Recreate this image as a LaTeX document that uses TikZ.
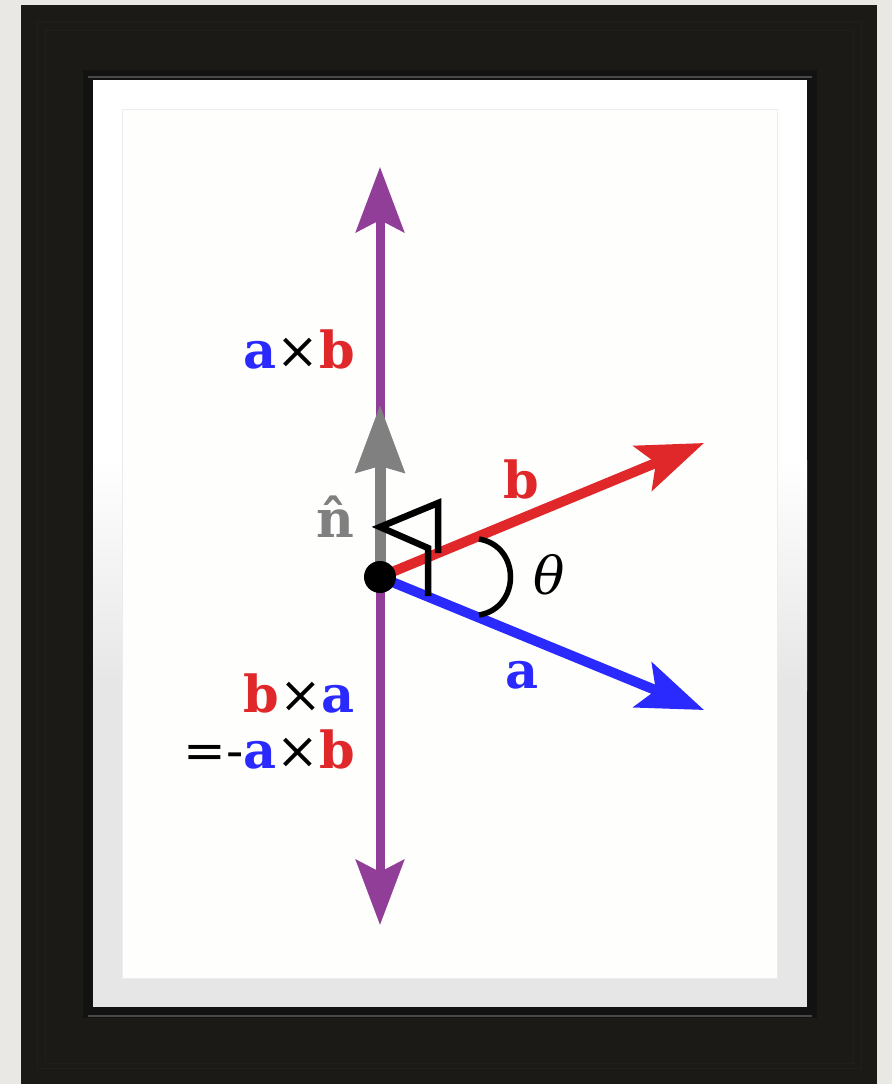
\documentclass[tikz,border=0pt]{standalone}
\usepackage{fontspec}
\setmainfont{DejaVu Serif}
\usetikzlibrary{arrows.meta}
\definecolor{bgc}{RGB}{233,232,229}
\definecolor{framec}{RGB}{28,26,22}
\definecolor{framel}{RGB}{33,31,27}
\definecolor{framed}{RGB}{18,18,18}
\definecolor{frameh}{RGB}{72,72,72}
\definecolor{matg}{RGB}{230,230,230}
\definecolor{paper}{RGB}{254,254,253}
\definecolor{paperb}{RGB}{236,236,236}
\definecolor{vpurple}{RGB}{145,62,152}
\definecolor{vgray}{RGB}{128,128,128}
\definecolor{vred}{RGB}{224,40,42}
\definecolor{vblue}{RGB}{42,42,255}
\tikzset{
  lbl/.style={inner sep=0pt, font=\fontsize{51}{56}\selectfont\bfseries},
  nlbl/.style={inner sep=0pt, font=\fontsize{52}{56}\selectfont\bfseries, text=vgray},
  thlbl/.style={inner sep=0pt, font=\fontsize{52}{56}\selectfont\itshape},
  vecarrow/.style={line width=10pt, -{Stealth[length=66pt, width=48pt, inset=14pt]}},
  flagline/.style={line width=6.5pt, black, line join=miter},
}
\begin{document}
\begin{tikzpicture}[x=1pt,y=-1pt]
\useasboundingbox (0,0) rectangle (892,1084);
% background and frame
\fill[bgc] (0,0) rectangle (892,1084);
\fill[framec] (21,5) rectangle (877,1084);
\draw[framel, line width=1pt] (37,21) rectangle (861,1068);
\draw[framel, line width=1pt] (45,30) rectangle (853,1063);
\fill[framed] (83,70) rectangle (817,1018);
\draw[frameh, line width=2pt] (88,77) -- (812,77);
\draw[frameh, line width=2pt] (88,1016) -- (812,1016);
% mat
\fill[white] (93,80) rectangle (807,1007);
\shade[top color=white, bottom color=matg] (93,460) rectangle (807,690);
\fill[matg] (93,690) rectangle (807,1007);
% picture area
\fill[paper, draw=paperb, line width=1pt] (122,109) rectangle (777,978);

% vectors
\coordinate (O) at (380,577);
\coordinate (Ptop) at (380,167);
\coordinate (Pbot) at (380,925);
\coordinate (Ntip) at (380,405);
\coordinate (Btip) at (704,443);
\coordinate (Atip) at (704,710);
\draw[vecarrow, vpurple, line width=9pt, -{Stealth[length=65pt, width=48pt, inset=12pt]}] (O) -- (Ptop);
\draw[vecarrow, vpurple, line width=9pt, -{Stealth[length=65pt, width=48pt, inset=12pt]}] (O) -- (Pbot);
\draw[vecarrow, vgray, line width=11pt, -{Stealth[length=67pt, width=48pt, inset=6pt]}] (O) -- (Ntip);
\draw[vecarrow, vred] (O) -- (Btip);
\draw[vecarrow, vblue] (O) -- (Atip);

% right-angle flag
\coordinate (F1) at (438,553);
\coordinate (F2) at (438,503);
\coordinate (F3) at (380,527);
\coordinate (F4) at (428,548);
\coordinate (F5) at (428,596);
\draw[flagline] (F1) -- (F2) -- (F3) -- (F4) -- (F5);

% angle arc
\coordinate (T1) at (479,539);
\coordinate (T2) at (479,615);
\draw[line width=5.5pt, black] (T1) .. controls (521,546) and (521,608) .. (T2);

% origin dot
\fill[black] (O) circle (16pt);

% labels
\node[lbl, anchor=base east] (axb) at (355,368) {\textcolor{vblue}{a}{\mdseries ×}\textcolor{vred}{b}};
\node[nlbl, anchor=base east] (nhat) at (355,537) {n̂};
\node[lbl, anchor=base, text=vred] (blab) at (521,498) {b};
\node[lbl, anchor=base, text=vblue] (alab) at (522,688) {a};
\node[thlbl, anchor=base] (th) at (549,594) {θ};
\node[lbl, anchor=base east] (bxa) at (355,712) {\textcolor{vred}{b}{\mdseries ×}\textcolor{vblue}{a}};
\node[lbl, anchor=base east] (maxb) at (355,768) {{\mdseries =-}\textcolor{vblue}{a}{\mdseries ×}\textcolor{vred}{b}};
\end{tikzpicture}
\end{document}
